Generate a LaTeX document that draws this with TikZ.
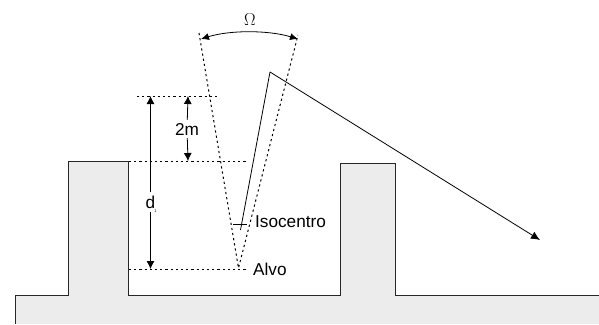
\documentclass[tikz,border=0pt]{standalone}
\usepackage{fontspec}
\setmainfont{Liberation Sans}
\usetikzlibrary{arrows.meta}
\definecolor{wallgray}{HTML}{ECECEC}
\tikzset{
  wall/.style={draw=black!85, line width=1pt},
  guide/.style={line width=1pt, dash pattern=on 2.2pt off 3pt},
  dim/.style={line width=0.8pt, -{Latex[length=8pt,width=8pt]}},
  tag/.style={font=\fontsize{17.2}{19}\selectfont, inner sep=0pt},
}
\begin{document}
\begin{tikzpicture}[x=1pt,y=-1pt]
  \useasboundingbox (0,0) rectangle (599,324);

  % floor and walls
  \fill[wallgray] (15,324) -- (15,295) -- (68.5,295) -- (68.5,161) -- (128.5,161) -- (128.5,295)
    -- (340,295) -- (340,163) -- (395,163) -- (395,295) -- (599,295) -- (599,324) -- cycle;
  \draw[wall] (15,324) -- (15,295) -- (68.5,295) -- (68.5,161) -- (128.5,161) -- (128.5,295)
    -- (340,295) -- (340,163) -- (395,163) -- (395,295) -- (599,295);

  % dotted guides
  \coordinate (apex) at (238.5,268);
  \coordinate (coneL) at (199,33);
  \coordinate (coneR) at (298,35);
  \draw[guide] (coneL) -- (apex) -- (coneR);
  \coordinate (dTop) at (150.5,96);
  \coordinate (dBot) at (150.5,269);
  \coordinate (mTop) at (188,96);
  \coordinate (mBot) at (188,161);
  \draw[guide] (137,96) -- (217,96);
  \draw[guide] (129,161) -- (248,161);
  \draw[guide] (129,269) -- (248,269);

  % dimensions
  \node[tag, fill=white, inner ysep=3pt] (dLabel) at (150.5,202) {d};
  \node[font=\fontsize{4}{4}\selectfont, inner sep=0pt] (dSub) at (155.5,211) {1};
  \draw[dim] (dLabel) -- (dTop);
  \draw[dim] (dLabel) -- (dBot);
  \node[tag, fill=white, inner ysep=3pt] (mLabel) at (187,129) {2m};
  \draw[dim] (mLabel) -- (mTop);
  \draw[dim] (mLabel) -- (mBot);

  % angle
  \coordinate (arcL) at (201,39);
  \coordinate (arcR) at (298,39);
  \draw[dim, {Latex[length=8pt,width=7pt]}-{Latex[length=8pt,width=7pt]}]
    (arcL) .. controls (230,30) and (268,30) .. (arcR);
  \node[font=\fontsize{18}{20}\selectfont, inner sep=0pt] (omega) at (250,20) {$\Omega$};

  % beam
  \coordinate (iso) at (240.5,230);
  \coordinate (peak) at (270,72);
  \coordinate (beamEnd) at (540,240);
  \draw[line width=0.8pt] (iso) -- (peak);
  \draw[line width=0.8pt, -{Latex[length=9pt,width=8pt]}] (peak) -- (beamEnd);
  \coordinate (crossL) at (233,224);
  \coordinate (crossR) at (247,224);
  \draw[line width=0.5pt] (crossL) -- (crossR);

  \node[tag, anchor=west] (isoLabel) at (255,222) {Isocentro};
  \node[tag, anchor=west] (alvoLabel) at (253,269) {Alvo};
\end{tikzpicture}
\end{document}
